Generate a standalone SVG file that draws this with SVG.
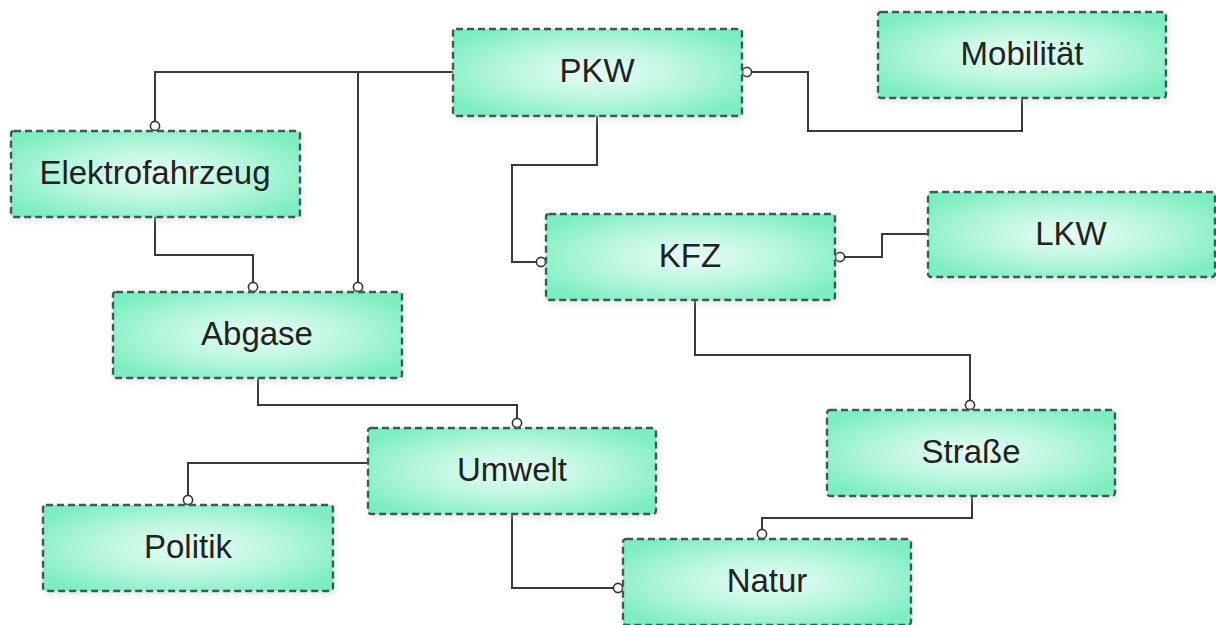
<svg xmlns="http://www.w3.org/2000/svg" width="1216" height="625" viewBox="0 0 1216 625">
<defs>
<radialGradient id="g" cx="0.5" cy="0.5" r="0.6">
<stop offset="0" stop-color="#e9fdf5"/>
<stop offset="0.55" stop-color="#b6f6dc"/>
<stop offset="1" stop-color="#7eeec2"/>
</radialGradient>
<filter id="sh" x="-10%" y="-20%" width="120%" height="140%">
<feDropShadow dx="2" dy="3" stdDeviation="3" flood-color="#b8c8cc" flood-opacity="0.4"/>
</filter>
<marker id="c" viewBox="0 0 12 12" refX="11" refY="6" markerWidth="12" markerHeight="12" markerUnits="userSpaceOnUse" orient="auto">
<circle cx="6" cy="6" r="4.6" fill="#ffffff" stroke="#333333" stroke-width="1.6"/>
</marker>
<marker id="cs" viewBox="0 0 12 12" refX="1" refY="6" markerWidth="12" markerHeight="12" markerUnits="userSpaceOnUse" orient="auto">
<circle cx="6" cy="6" r="4.6" fill="#ffffff" stroke="#333333" stroke-width="1.6"/>
</marker>
</defs>
<style>
.box{fill:url(#g);stroke:#3d5a52;stroke-width:2.4;stroke-dasharray:7 4;filter:url(#sh)}
.lbl{font-family:"Liberation Sans",Arial,sans-serif;font-size:33px;fill:#222222;text-anchor:middle}
.con{fill:none;stroke:#3a3a3a;stroke-width:2}
.end{marker-end:url(#c)}
</style>
<rect width="1216" height="625" fill="#ffffff"/>
<g id="connectors">
<path class="con end" d="M453 72 H155 V131"/>
<path class="con end" d="M358 72 V292"/>
<path class="con" d="M742 72 H808 V131 H1022 V98" marker-start="url(#cs)"/>
<path class="con end" d="M597 116 V165 H512 V262 H546"/>
<path class="con end" d="M928 234 H882 V257 H835"/>
<path class="con end" d="M695 300 V355 H970 V410"/>
<path class="con end" d="M155 217 V255 H253 V292"/>
<path class="con end" d="M258 378 V405 H517 V428"/>
<path class="con end" d="M368 463 H188 V505"/>
<path class="con end" d="M512 514 V588 H623"/>
<path class="con end" d="M972 496 V518 H762 V539"/>
</g>
<g id="node-pkw"><rect class="box" x="453" y="29" width="289" height="87" rx="3"/><text class="lbl" x="597" y="82">PKW</text></g>
<g id="node-mobilitaet"><rect class="box" x="878" y="12" width="288" height="86" rx="3"/><text class="lbl" x="1022" y="65">Mobilität</text></g>
<g id="node-elektrofahrzeug"><rect class="box" x="11" y="131" width="289" height="86" rx="3"/><text class="lbl" x="155" y="184">Elektrofahrzeug</text></g>
<g id="node-abgase"><rect class="box" x="113" y="292" width="289" height="86" rx="3"/><text class="lbl" x="257" y="345">Abgase</text></g>
<g id="node-kfz"><rect class="box" x="546" y="214" width="289" height="86" rx="3"/><text class="lbl" x="690" y="267">KFZ</text></g>
<g id="node-lkw"><rect class="box" x="928" y="192" width="287" height="85" rx="3"/><text class="lbl" x="1071" y="245">LKW</text></g>
<g id="node-umwelt"><rect class="box" x="368" y="428" width="288" height="86" rx="3"/><text class="lbl" x="512" y="481">Umwelt</text></g>
<g id="node-strasse"><rect class="box" x="827" y="410" width="288" height="86" rx="3"/><text class="lbl" x="971" y="463">Straße</text></g>
<g id="node-politik"><rect class="box" x="43" y="505" width="290" height="86" rx="3"/><text class="lbl" x="188" y="558">Politik</text></g>
<g id="node-natur"><rect class="box" x="623" y="539" width="288" height="86" rx="3"/><text class="lbl" x="767" y="592">Natur</text></g>
</svg>
